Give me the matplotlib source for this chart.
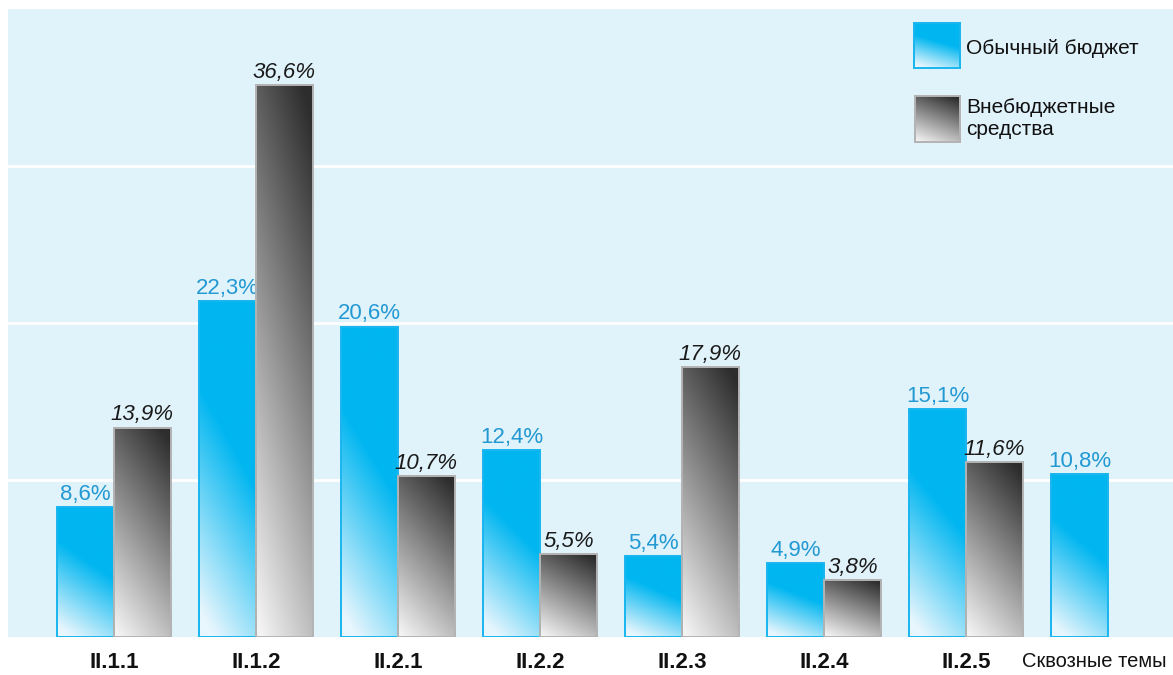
import numpy as np
import matplotlib
matplotlib.use("Agg")
import matplotlib.pyplot as plt

categories = ["II.1.1", "II.1.2", "II.2.1", "II.2.2", "II.2.3", "II.2.4", "II.2.5", "Сквозные темы"]
regular_budget = [8.6, 22.3, 20.6, 12.4, 5.4, 4.9, 15.1, 10.8]
extra_budget = [13.9, 36.6, 10.7, 5.5, 17.9, 3.8, 11.6, None]
series_names = ["Обычный бюджет", "Внебюджетные\nсредства"]

W, H = 1173, 675
fig = plt.figure(figsize=(W / 100, H / 100), dpi=100)
fig.patch.set_facecolor("white")

bg = "#e0f2fa"
ax = fig.add_axes([8 / W, (H - 637) / H, (W - 8) / W, (637 - 9) / H])
ax.set_facecolor(bg)
for s in ax.spines.values():
    s.set_visible(False)

ymax = 41.67
ax.set_ylim(0, ymax)
ax.set_xlim(-0.7465, 7.458)
ax.set_yticks([ymax / 4 * k for k in (1, 2, 3)])
ax.yaxis.grid(True, color="white", lw=2.0)
ax.set_axisbelow(True)
ax.tick_params(axis="y", left=False, labelleft=False)

cyan = np.array([0, 182, 240]) / 255
pale = np.array([232, 246, 253]) / 255
dark = np.array([45, 45, 45]) / 255
light = np.array([243, 243, 243]) / 255


def blue_grad(n=100):
    s = np.linspace(1, 0, n)[:, None]  # top row first
    u = np.linspace(0, 1, n)[None, :]
    t = np.clip(1.5 * s + 0.45 * u - 0.12, 0, 1)
    return pale[None, None, :] + (cyan - pale)[None, None, :] * t[:, :, None]


def gray_grad(n=100):
    s = np.linspace(1, 0, n)[:, None]
    u = np.linspace(0, 1, n)[None, :]
    t = np.clip(0.78 * s + 0.3 * u - 0.03, 0, 1)
    return light[None, None, :] + (dark - light)[None, None, :] * t[:, :, None]


bw = 0.40
x = np.arange(len(categories))
blue_lbl = "#2399d3"
lbl_font = ["Liberation Sans", "DejaVu Sans"]

for i, v in enumerate(regular_budget):
    x0 = x[i] - bw
    ax.imshow(blue_grad(), extent=(x0, x0 + bw, 0, v), aspect="auto", zorder=2, interpolation="bilinear")
    ax.add_patch(plt.Rectangle((x0, 0), bw, v, fill=False, ec="#19b5ee", lw=1.4, zorder=3))
    ax.annotate(f"{v:.1f}".replace(".", ",") + "%", (x0 + bw / 2, v), xytext=(0, 1.5),
                textcoords="offset points", ha="center", va="bottom", color=blue_lbl,
                fontsize=16, family=lbl_font)

for i, v in enumerate(extra_budget):
    if v is None:
        continue
    x0 = x[i]
    ax.imshow(gray_grad(), extent=(x0, x0 + bw, 0, v), aspect="auto", zorder=2, interpolation="bilinear")
    ax.add_patch(plt.Rectangle((x0, 0), bw, v, fill=False, ec="#b3b3b3", lw=1.4, zorder=3))
    ax.annotate(f"{v:.1f}".replace(".", ",") + "%", (x0 + bw / 2, v), xytext=(0, 1.5),
                textcoords="offset points", ha="center", va="bottom", color="#1a1a1a",
                fontsize=16, style="italic", family=lbl_font)

ax.set_xlim(-0.7465, 7.458)
ax.set_ylim(0, ymax)

tick_pos = list(x[:-1].astype(float)) + [x[-1] - 0.10]
ax.set_xticks(tick_pos, categories)
ax.tick_params(axis="x", bottom=False, pad=7)
for k, lab in enumerate(ax.get_xticklabels()):
    if k < len(categories) - 1:
        lab.set_fontsize(16)
        lab.set_fontweight("bold")
        lab.set_family(["Liberation Sans", "DejaVu Sans"])
    else:
        lab.set_fontsize(14.5)
        lab.set_family(["Liberation Sans", "DejaVu Sans"])
    lab.set_color("#111111")

# legend
sw1 = fig.add_axes([914 / W, (H - 68) / H, 46 / W, 45 / H])
sw1.imshow(blue_grad(), aspect="auto", interpolation="bilinear")
for s in sw1.spines.values():
    s.set_color("#19b5ee"); s.set_linewidth(1.4)
sw1.set_xticks([]); sw1.set_yticks([])

sw2 = fig.add_axes([915 / W, (H - 142) / H, 45 / W, 46 / H])
sw2.imshow(gray_grad(), aspect="auto", interpolation="bilinear")
for s in sw2.spines.values():
    s.set_color("#b3b3b3"); s.set_linewidth(1.4)
sw2.set_xticks([]); sw2.set_yticks([])

fig.text(966 / W, (H - 48) / H, series_names[0], ha="left", va="center", fontsize=15,
         family=lbl_font, color="#111111")
fig.text(966 / W, (H - 118.5) / H, series_names[1], ha="left", va="center", fontsize=15,
         family=lbl_font, color="#111111", linespacing=1.25)

fig.savefig("out.png", dpi=100, facecolor="white")
